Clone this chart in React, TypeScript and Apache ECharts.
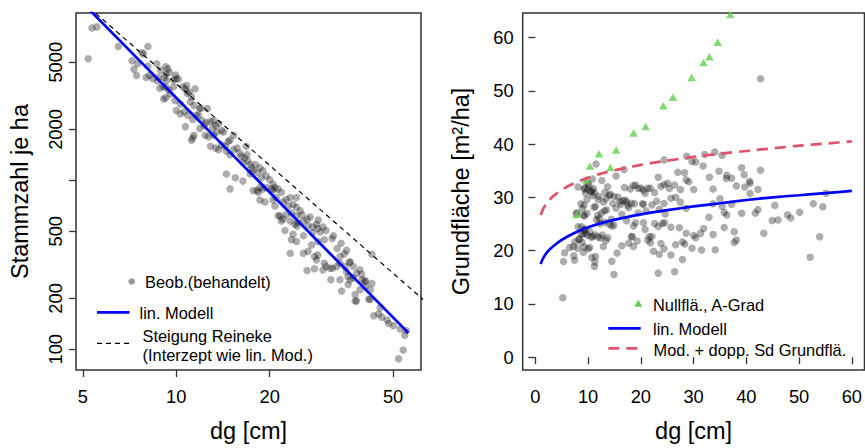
import React, { useEffect, useRef } from 'react';
import * as echarts from 'echarts';

// Observations (behandelt): [dg in cm, Stammzahl je ha]
const beob: [number, number][] = [
  [5.2, 5250], [5.35, 7990], [5.55, 8100], [6.5, 6200], [7.2, 5100], [7.3, 4550], [7.45, 4170], [7.5, 4900],
  [7.75, 5700], [7.85, 5600], [8.0, 4070], [8.1, 6200], [8.1, 4750], [8.2, 4180], [8.4, 4000], [8.65, 4900],
  [8.7, 3880], [8.75, 4070], [8.85, 3510], [8.9, 4480], [9.05, 3600], [9.1, 3030], [9.15, 4050], [9.25, 4700],
  [9.25, 4250], [9.25, 3560], [9.25, 3080], [9.3, 3900], [9.4, 4580], [9.45, 3430], [9.5, 4350], [9.55, 3240],
  [9.8, 3930], [9.8, 3580], [9.95, 4200], [10.0, 4000], [10.15, 3980], [10.5, 3580], [10.7, 3480], [10.8, 3650],
  [10.85, 3280], [11.0, 3330], [11.2, 3130], [11.5, 3490],
  [9.9, 2970], [10.3, 2830], [11.1, 2910], [11.4, 2770], [10.0, 2590], [10.3, 2470], [10.6, 2550], [10.9, 2430],
  [10.7, 2080], [11.4, 1850], [11.2, 1730], [11.8, 2430], [12.1, 2260], [12.3, 2110], [11.9, 2030], [12.9, 2230],
  [13.2, 2260], [13.4, 2110], [13.7, 2170], [14.0, 1970], [14.2, 1930], [13.5, 1930], [13.2, 1850], [12.7, 1810],
  [12.4, 1850], [12.9, 1590], [13.4, 1552], [13.7, 1520], [14.0, 1620], [14.4, 1590], [14.7, 1700], [14.9, 1730],
  [15.3, 1850], [11.9, 2660], [12.6, 2660], [11.3, 2290], [11.6, 2440], [12.0, 2670], [12.5, 2200], [13.1, 2040],
  [11.3, 1780],
  [14.5, 1490], [14.9, 1420], [15.3, 1520], [15.7, 1552], [16.0, 1450], [16.2, 1390], [16.6, 1357], [16.4, 1270],
  [17.0, 1300], [17.3, 1240], [17.5, 1186], [17.7, 1140], [14.5, 1090], [15.5, 1037], [14.9, 890], [16.4, 990],
  [17.3, 1090], [18.2, 1110], [18.6, 1186], [19.0, 1140], [18.8, 1037], [19.5, 1060], [20.0, 1010], [20.5, 950],
  [20.8, 906], [20.3, 890], [19.5, 906], [18.6, 906], [18.2, 870], [16.8, 1590], [16.9, 1420], [18.0, 1240],
  [17.7, 870], [18.4, 850], [19.0, 890], [20.5, 870], [21.3, 890], [21.8, 850], [18.6, 765], [19.3, 745],
  [20.5, 765], [20.8, 705], [22.1, 745], [22.6, 770], [23.3, 792], [23.0, 705], [23.8, 720], [24.4, 693],
  [25.1, 660], [25.4, 625], [21.6, 617], [22.1, 590], [22.6, 625], [23.3, 575], [24.1, 550], [24.6, 565],
  [25.7, 575], [26.4, 590], [27.0, 606], [26.6, 540], [27.5, 530], [28.3, 550], [28.6, 518], [29.1, 495],
  [29.7, 530], [30.4, 505], [22.4, 505], [23.5, 445], [24.4, 435], [21.0, 792], [24.4, 792], [23.5, 640],
  [24.4, 617], [21.3, 617], [21.8, 575], [23.8, 480], [25.7, 470], [27.5, 490], [24.5, 535], [28.7, 583],
  [32.1, 470],
  [25.7, 370], [26.6, 380], [27.3, 415], [28.6, 435], [30.0, 445], [31.8, 452], [34.0, 424], [33.0, 395],
  [33.7, 354], [35.4, 385], [28.3, 338], [30.0, 323], [29.7, 295], [31.3, 302], [31.9, 302], [33.7, 323],
  [36.3, 330], [37.2, 309], [35.4, 288], [35.8, 270], [37.2, 264], [38.1, 282], [39.1, 296], [39.7, 258],
  [40.7, 251], [42.7, 245], [42.2, 225], [39.1, 225], [37.7, 211], [34.1, 221], [31.5, 258], [33.7, 258],
  [37.7, 193], [42.2, 198], [45.4, 176], [43.3, 158], [44.9, 162], [46.0, 155], [47.8, 149], [48.4, 142],
  [50.1, 138], [52.7, 132], [55.1, 129], [54.5, 121], [53.9, 99], [52.1, 88],
  [23.3, 370], [26.4, 293], [27.9, 300], [42.7, 365], [40.7, 236], [41.7, 198], [38.1, 193], [36.3, 258],
  [35.0, 309], [32.9, 309], [30.4, 309], [28.6, 362], [27.9, 354], [35.8, 242], [34.8, 367], [36.2, 326],
  [39.6, 278], [40.6, 255],
];

// Nullfläche, A-Grad: [dg, Grundfläche]
const nullflaeche: [number, number][] = [
  [7.82, 26.8], [9.63, 33.3], [10.35, 35.9], [12.05, 38.2], [14.22, 35.6], [15.32, 38.9], [18.62, 42.1],
  [20.9, 43.3], [24.26, 47.2], [26.07, 48.8], [29.63, 52.5], [31.88, 55.3], [33.0, 56.4], [34.57, 59.1],
  [36.94, 64.3],
];

// left panel lines (dg, N)
const modelLine: [number, number][] = [[5.2, 10400], [56, 125]];
const reinekeLine: [number, number][] = [[4.5, 13450], [65, 185]];

// right panel curves
const curveDg = [1, 1.25, 1.5, 2, 2.5, 3, 4, 5, 6, 8, 10, 13, 16, 20, 25, 30, 35, 40, 45, 50, 55, 60];
const curveModelG = [17.5, 18.1, 18.6, 19.4, 20.0, 20.5, 21.3, 22.0, 22.6, 23.6, 24.4, 25.3, 26.0, 26.8, 27.6, 28.3, 28.9, 29.5, 30.0, 30.4, 30.8, 31.2];
const curveSdG = [26.7, 27.3, 27.9, 28.7, 29.3, 29.9, 30.7, 31.4, 32.0, 32.9, 33.7, 34.6, 35.3, 36.1, 36.9, 37.6, 38.2, 38.7, 39.2, 39.7, 40.1, 40.5];

const xTicksLeft = [5, 10, 20, 50];
const yTicksLeft = [100, 200, 500, 1000, 2000, 5000];
const yLabelsLeft = [100, 200, 500, 2000, 5000];
const ticksRight = [0, 10, 20, 30, 40, 50, 60];

const FONT = '"Liberation Sans", Arial, Helvetica, sans-serif';
const lg = Math.log10;
const AXC = '#333';

function axisCommon() {
  return {
    type: 'value' as const,
    axisLine: { show: false },
    splitLine: { show: false },
    nameLocation: 'middle' as const,
    nameTextStyle: { fontSize: 23.5, fontFamily: FONT, color: '#000', verticalAlign: 'middle' },
  };
}

export default function App() {
  const ref = useRef<HTMLDivElement>(null);
  useEffect(() => {
    document.body.style.margin = '0';
    const chart = echarts.init(ref.current!, null, { renderer: 'svg' });
    const logFmt = (v: number) => String(Math.round(Math.pow(10, v)));
    const labelBase = { fontSize: 18.3, fontFamily: FONT, color: '#000' };
    const tickBase = { show: true, inside: false, length: 7, lineStyle: { color: AXC, width: 1.3 } };

    const option: any = {
      animation: false,
      grid: [
        { left: 76, top: 13, width: 345, height: 362, show: true, borderColor: AXC, borderWidth: 1.5, backgroundColor: 'transparent' },
        { left: 522.7, top: 13, width: 345, height: 362, show: true, borderColor: AXC, borderWidth: 1.5, backgroundColor: 'transparent' },
      ],
      xAxis: [
        {
          ...axisCommon(), gridIndex: 0, min: lg(4.75), max: lg(61.5),
          axisTick: { ...tickBase, customValues: xTicksLeft.map(lg) },
          axisLabel: { ...labelBase, margin: 17, customValues: xTicksLeft.map(lg), formatter: logFmt },
          name: 'dg [cm]', nameGap: 61,
        },
        {
          ...axisCommon(), gridIndex: 1, min: -2.4, max: 62.4,
          axisTick: { ...tickBase, customValues: ticksRight },
          axisLabel: { ...labelBase, margin: 17, customValues: ticksRight },
          name: 'dg [cm]', nameGap: 61,
        },
      ],
      yAxis: [
        {
          ...axisCommon(), gridIndex: 0, min: lg(75.4), max: lg(9790),
          axisTick: { ...tickBase, customValues: yTicksLeft.map(lg) },
          axisLabel: { ...labelBase, margin: 11.7, rotate: 90, customValues: yLabelsLeft.map(lg), formatter: logFmt },
          name: 'Stammzahl je ha', nameGap: 56.5,
        },
        {
          ...axisCommon(), gridIndex: 1, min: -2.4, max: 64.6,
          axisTick: { ...tickBase, customValues: ticksRight },
          axisLabel: { ...labelBase, margin: 9, customValues: ticksRight },
          name: 'Grundfläche [m²/ha]', nameGap: 62,
        },
      ],
      series: [
        {
          type: 'scatter', xAxisIndex: 0, yAxisIndex: 0, silent: true,
          data: beob.map(([d, n]) => [lg(d), lg(n)]),
          symbol: 'circle', symbolSize: 7.5, itemStyle: { color: 'rgba(0,0,0,0.4)' }, z: 2,
        },
        {
          type: 'line', xAxisIndex: 0, yAxisIndex: 0, silent: true, clip: true,
          data: reinekeLine.map(([d, n]) => [lg(d), lg(n)]),
          symbol: 'none', lineStyle: { color: '#000', width: 1.2, type: [5, 4] }, z: 3,
        },
        {
          type: 'line', xAxisIndex: 0, yAxisIndex: 0, silent: true, clip: true,
          data: modelLine.map(([d, n]) => [lg(d), lg(n)]),
          symbol: 'none', lineStyle: { color: '#0000FF', width: 2.7 }, z: 4,
        },
        {
          type: 'scatter', xAxisIndex: 1, yAxisIndex: 1, silent: true,
          data: beob.map(([d, n]) => [d, (n * Math.PI * d * d) / 40000]),
          symbol: 'circle', symbolSize: 7.5, itemStyle: { color: 'rgba(0,0,0,0.4)' }, z: 2,
        },
        {
          type: 'scatter', xAxisIndex: 1, yAxisIndex: 1, silent: true,
          data: nullflaeche,
          symbol: 'triangle', symbolSize: [8.5, 7.5], itemStyle: { color: '#61D04F' }, z: 3,
        },
        {
          type: 'line', xAxisIndex: 1, yAxisIndex: 1, silent: true, clip: true, smooth: 0.2,
          data: curveDg.map((d, i) => [d, curveModelG[i]]),
          symbol: 'none', lineStyle: { color: '#0000FF', width: 2.7 }, z: 4,
        },
        {
          type: 'line', xAxisIndex: 1, yAxisIndex: 1, silent: true, clip: true, smooth: 0.2,
          data: curveDg.map((d, i) => [d, curveSdG[i]]),
          symbol: 'none', lineStyle: { color: '#DF536B', width: 2.7, type: [11, 7] }, z: 4,
        },
      ],
      graphic: {
        elements: [
          { type: 'circle', shape: { cx: 131.7, cy: 281.5, r: 3.3 }, style: { fill: 'rgba(0,0,0,0.4)' } },
          { type: 'text', x: 145, y: 282.3, style: { text: 'Beob.(behandelt)', fontSize: 16.4, fontFamily: FONT, fill: '#000', align: 'left', verticalAlign: 'middle' } },
          { type: 'line', shape: { x1: 97, y1: 312.3, x2: 129.5, y2: 312.3 }, style: { stroke: '#0000FF', lineWidth: 2.7 } },
          { type: 'text', x: 139.5, y: 313.3, style: { text: 'lin. Modell', fontSize: 16.4, fontFamily: FONT, fill: '#000', align: 'left', verticalAlign: 'middle' } },
          { type: 'line', shape: { x1: 97, y1: 343.3, x2: 129.5, y2: 343.3 }, style: { stroke: '#000', lineWidth: 1.2, lineDash: [5, 4] } },
          { type: 'text', x: 142.5, y: 335.7, style: { text: 'Steigung Reineke', fontSize: 16.4, fontFamily: FONT, fill: '#000', align: 'left', verticalAlign: 'middle' } },
          { type: 'text', x: 142.5, y: 354.7, style: { text: '(Interzept wie lin. Mod.)', fontSize: 16.4, fontFamily: FONT, fill: '#000', align: 'left', verticalAlign: 'middle' } },

          { type: 'polygon', shape: { points: [[638.3, 299.8], [634.2, 306.8], [642.4, 306.8]] }, style: { fill: '#61D04F' } },
          { type: 'text', x: 653, y: 304.5, style: { text: 'Nullflä., A-Grad', fontSize: 16.4, fontFamily: FONT, fill: '#000', align: 'left', verticalAlign: 'middle' } },
          { type: 'line', shape: { x1: 608.3, y1: 328.3, x2: 640.7, y2: 328.3 }, style: { stroke: '#0000FF', lineWidth: 2.7 } },
          { type: 'text', x: 653, y: 329.2, style: { text: 'lin. Modell', fontSize: 16.4, fontFamily: FONT, fill: '#000', align: 'left', verticalAlign: 'middle' } },
          { type: 'line', shape: { x1: 608.3, y1: 348.3, x2: 640.7, y2: 348.3 }, style: { stroke: '#DF536B', lineWidth: 2.7, lineDash: [11, 7] } },
          { type: 'text', x: 653.5, y: 349.5, style: { text: 'Mod. + dopp. Sd Grundflä.', fontSize: 16.4, fontFamily: FONT, fill: '#000', align: 'left', verticalAlign: 'middle' } },
        ],
      },
    };
    chart.setOption(option);
    return () => chart.dispose();
  }, []);
  return <div ref={ref} style={{ width: 865, height: 448, position: 'absolute', left: 0, top: 0 }} />;
}
